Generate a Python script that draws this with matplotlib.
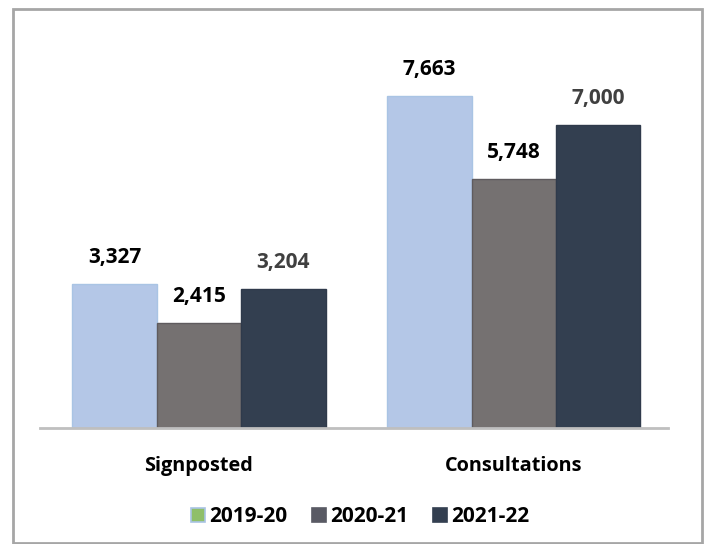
import matplotlib.pyplot as plt
from matplotlib.patches import Rectangle, Patch
import numpy as np

categories = ['Signposted', 'Consultations']
years = ['2019-20', '2020-21', '2021-22']
values_1920 = [3327, 7663]
values_2021 = [2415, 5748]
values_2122 = [3204, 7000]

colors = ['#b4c7e7', '#757171', '#333f50']
edge_colors = ['#a9c4e4', '#5f5b5e', '#2f3a4b']
label_colors = ['#000000', '#000000', '#404040']
legend_faces = ['#8fbf6a', '#595a64', '#333f50']
legend_edges = ['#a9c4e4', '#595a64', '#333f50']

plt.rcParams['font.family'] = ['Open Sans', 'DejaVu Sans']

fig = plt.figure(figsize=(7.06, 5.44), dpi=100)
ax = fig.add_axes([40 / 706, 1 - 428 / 544, 628 / 706, 398 / 544])

x = np.arange(len(categories))
width = 0.268
series = [values_1920, values_2021, values_2122]
for i, vals in enumerate(series):
    pos = x + (i - 1) * width
    ax.bar(pos, vals, width, color=colors[i], edgecolor=edge_colors[i], linewidth=1)
    for px, v in zip(pos, vals):
        ax.annotate(f'{v:,}', (px, v), xytext=(0, 19), textcoords='offset points',
                    ha='center', va='center', fontsize=15, fontweight='bold',
                    color=label_colors[i])

ax.set_xlim(-0.505, 1.49)
ax.set_ylim(0, 9185)
ax.set_yticks([])
ax.set_xticks(x)
ax.set_xticklabels(categories, fontsize=14.3, fontweight='bold')
ax.tick_params(axis='x', length=0, pad=20)
for s in ['top', 'right', 'left']:
    ax.spines[s].set_visible(False)
ax.spines['bottom'].set_color('#bfbfbf')
ax.spines['bottom'].set_linewidth(2)

handles = [Patch(facecolor=legend_faces[i], edgecolor=legend_edges[i], linewidth=1.2, label=years[i])
           for i in range(3)]
fig.legend(handles=handles, loc='center', bbox_to_anchor=(0.51, 1 - 517 / 544), ncol=3,
           frameon=False, prop={'size': 15, 'weight': 'bold'},
           handlelength=0.65, handleheight=0.65, handletextpad=0.2, columnspacing=1.2)

fig.patches.append(Rectangle((13 / 706, 0.002), 689 / 706, 1 - 9 / 544 - 0.002,
                             transform=fig.transFigure, fill=False,
                             edgecolor='#a6a6a6', linewidth=2))

fig.savefig('out.png', dpi=100)
